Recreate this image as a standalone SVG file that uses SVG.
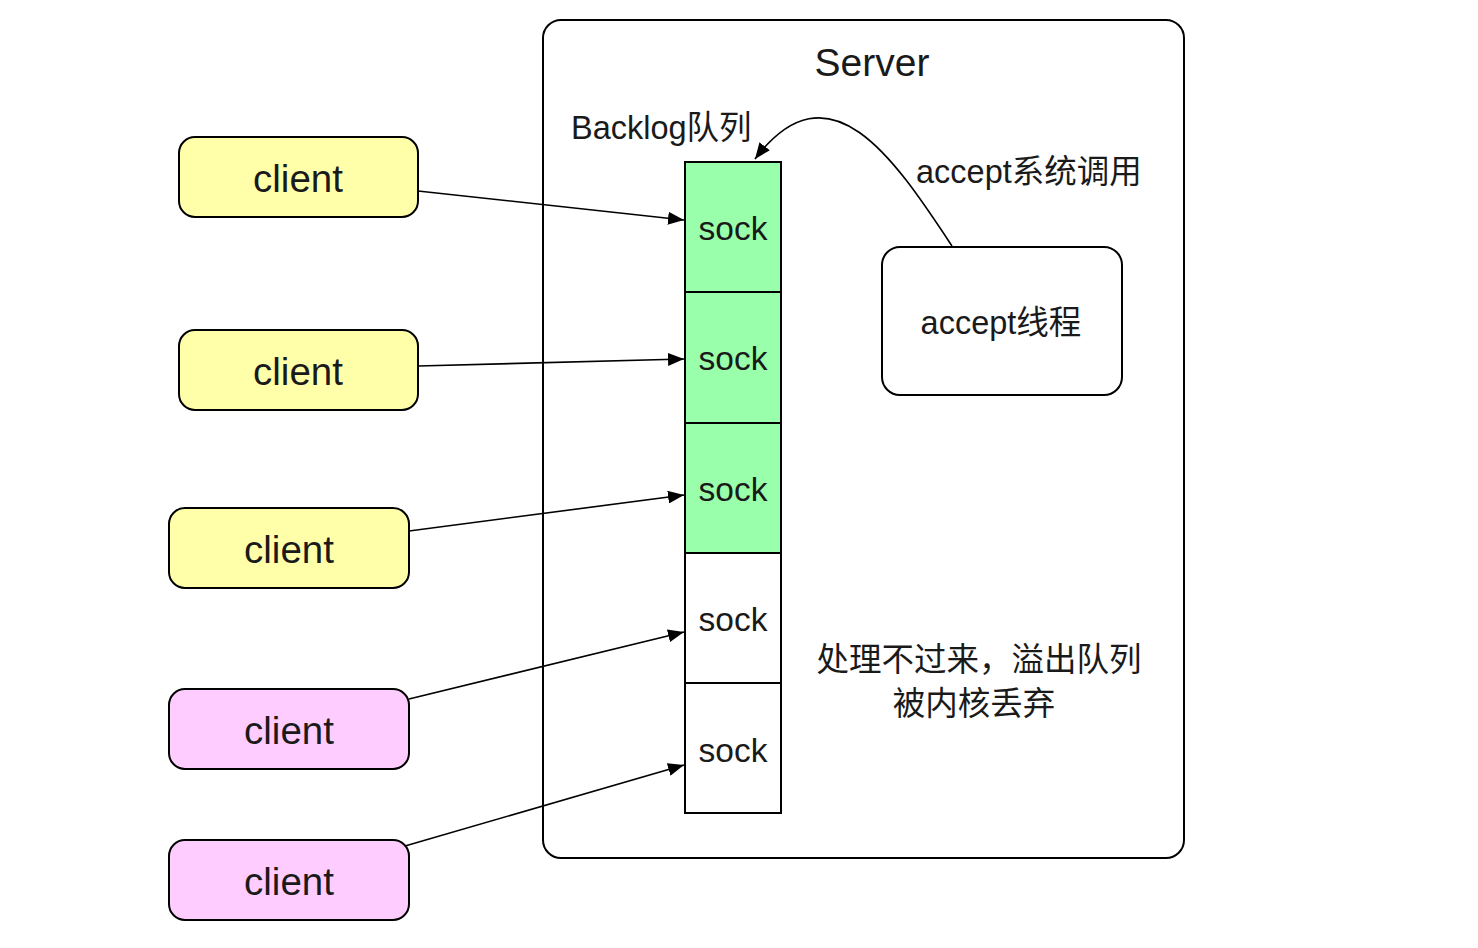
<svg xmlns="http://www.w3.org/2000/svg" width="1478" height="948" viewBox="0 0 1478 948">
<defs>
<style>
text{font-family:"Liberation Sans","Noto Sans CJK SC",sans-serif;fill:#1a1a1a;}
.box{stroke:#000;stroke-width:2;}
.cl{font-size:38.5px;text-anchor:middle;}
.sk{font-size:33.5px;text-anchor:middle;}
.lb{font-size:32.5px;}
.ln{fill:none;stroke:#000;stroke-width:1.6;}
</style>
<marker id="ah" viewBox="0 0 16 13" refX="16" refY="6.5" markerWidth="16" markerHeight="13" markerUnits="userSpaceOnUse" orient="auto">
<path d="M0,0 L16,6.5 L0,13 Z" fill="#000"/>
</marker>
</defs>
<rect width="1478" height="948" fill="#fff"/>
<g id="server">
<rect x="543" y="20" width="641" height="838" rx="18" fill="#fff" class="box"/>
<text x="872" y="76" font-size="39" text-anchor="middle">Server</text>
</g>
<g id="backlog-label"><text x="571" y="139" class="lb">Backlog队列</text></g>
<g id="accept-call-label"><text x="916" y="183" class="lb">accept系统调用</text></g>
<g id="overflow-label">
<text x="979" y="671" class="lb" text-anchor="middle">处理不过来，溢出队列</text>
<text x="974" y="715" class="lb" text-anchor="middle">被内核丢弃</text>
</g>
<g id="sock1"><rect x="685" y="162" width="96" height="130" fill="#99ffaa" class="box"/><text x="733" y="240" class="sk">sock</text></g>
<g id="sock2"><rect x="685" y="292" width="96" height="131" fill="#99ffaa" class="box"/><text x="733" y="370" class="sk">sock</text></g>
<g id="sock3"><rect x="685" y="423" width="96" height="130" fill="#99ffaa" class="box"/><text x="733" y="501" class="sk">sock</text></g>
<g id="sock4"><rect x="685" y="553" width="96" height="130" fill="#fff" class="box"/><text x="733" y="631" class="sk">sock</text></g>
<g id="sock5"><rect x="685" y="683" width="96" height="130" fill="#fff" class="box"/><text x="733" y="762" class="sk">sock</text></g>
<g id="accept-thread"><rect x="882" y="247" width="240" height="148" rx="18" fill="#fff" class="box"/><text x="1001" y="334" class="lb" text-anchor="middle">accept线程</text></g>
<g id="client1"><rect x="179" y="137" width="239" height="80" rx="16" fill="#ffffaa" class="box"/><text x="298" y="192" class="cl">client</text></g>
<g id="client2"><rect x="179" y="330" width="239" height="80" rx="16" fill="#ffffaa" class="box"/><text x="298" y="385" class="cl">client</text></g>
<g id="client3"><rect x="169" y="508" width="240" height="80" rx="16" fill="#ffffaa" class="box"/><text x="289" y="563" class="cl">client</text></g>
<g id="client4"><rect x="169" y="689" width="240" height="80" rx="16" fill="#ffccff" class="box"/><text x="289" y="744" class="cl">client</text></g>
<g id="client5"><rect x="169" y="840" width="240" height="80" rx="16" fill="#ffccff" class="box"/><text x="289" y="895" class="cl">client</text></g>
<g id="connectors">
<line x1="418" y1="191" x2="684" y2="220" class="ln" marker-end="url(#ah)"/>
<line x1="418" y1="366" x2="684" y2="359" class="ln" marker-end="url(#ah)"/>
<line x1="409" y1="531" x2="684" y2="495" class="ln" marker-end="url(#ah)"/>
<line x1="409" y1="699" x2="684" y2="632" class="ln" marker-end="url(#ah)"/>
<line x1="405" y1="846" x2="684" y2="765" class="ln" marker-end="url(#ah)"/>
<path d="M952,246 C895,160 830,60 755,159" class="ln" marker-end="url(#ah)"/>
</g>
</svg>
